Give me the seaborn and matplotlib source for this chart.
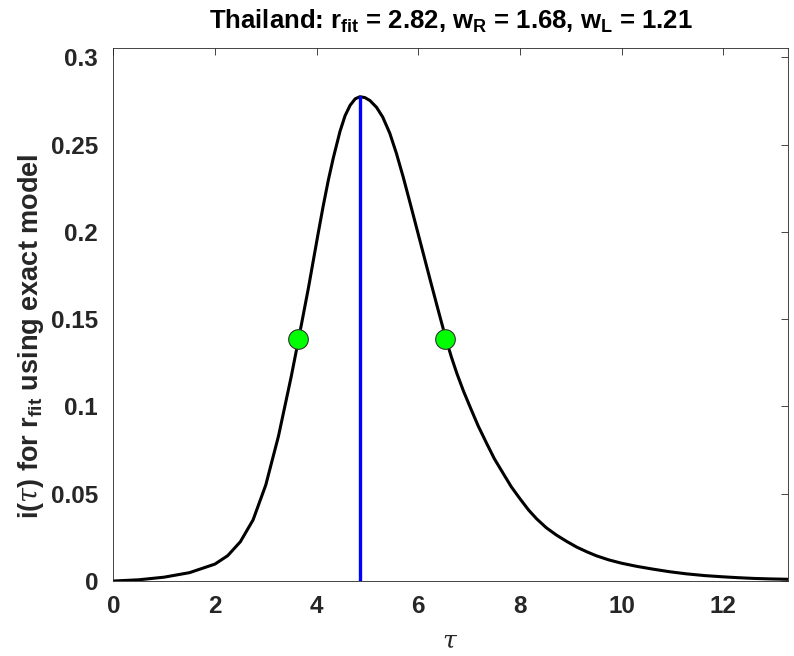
import matplotlib
matplotlib.use("Agg")
import matplotlib.pyplot as plt
import seaborn as sns
import pandas as pd

# Epidemic curve i(tau) for the fitted growth rate
tau = [0.0, 0.5, 1.0, 1.5, 2.0, 2.25, 2.5, 2.75, 3.0, 3.25, 3.5, 3.647,
       3.84, 4.03, 4.13, 4.23, 4.33, 4.46, 4.56, 4.66, 4.76, 4.853,
       4.95, 5.05, 5.18, 5.30, 5.44, 5.57, 5.705, 5.84, 5.97, 6.10, 6.23,
       6.38, 6.545, 6.65, 6.76, 6.89, 7.02, 7.18, 7.345, 7.5, 7.67, 7.83,
       8.0, 8.17, 8.33, 8.52, 8.72, 8.92, 9.12, 9.32, 9.51, 9.75, 10.0,
       10.3, 10.62, 10.95, 11.28, 11.64, 12.0, 12.3, 12.59, 12.93, 13.27]
i_tau = [0.0, 0.0007, 0.0022, 0.0048, 0.0097, 0.0145, 0.0225, 0.035, 0.055,
         0.083, 0.117, 0.1387, 0.168, 0.199, 0.2148, 0.2295, 0.2425, 0.2575,
         0.2665, 0.2725, 0.2762, 0.2774,
         0.2769, 0.2752, 0.2713, 0.2658, 0.2565, 0.2450, 0.2313, 0.2165,
         0.2020, 0.1875, 0.1730, 0.1565, 0.1387, 0.1285, 0.1189, 0.1088,
         0.0997, 0.0888, 0.0789, 0.0699, 0.0617, 0.0540, 0.0472, 0.0407,
         0.0356, 0.0305, 0.0263, 0.0227, 0.0194, 0.0167, 0.0144, 0.0121,
         0.0102, 0.0084, 0.0068, 0.0053, 0.0041, 0.0031, 0.0024, 0.0019,
         0.0015, 0.0012, 0.0010]

country = "Thailand"
r_fit = 2.82
w_R = 1.68
w_L = 1.21
tau_peak = 4.853
i_peak = 0.2774

sns.set_theme(style="white")
plt.rcParams["font.family"] = ["Liberation Sans", "DejaVu Sans"]
plt.rcParams["mathtext.fontset"] = "custom"
plt.rcParams["mathtext.rm"] = "Liberation Sans"
plt.rcParams["mathtext.bf"] = "Liberation Sans:bold"
plt.rcParams["mathtext.it"] = "DejaVu Serif:italic"

fig = plt.figure(figsize=(7.94, 6.56), dpi=100)
ax = fig.add_axes([0.1427, 0.1143, 0.8494, 0.8121])

curve = pd.DataFrame({"tau": tau, "i": i_tau})
sns.lineplot(data=curve, x="tau", y="i", ax=ax, color="black", linewidth=2.2,
             sort=False, estimator=None, zorder=2)

# Peak marker line
peak = pd.DataFrame({"tau": [tau_peak, tau_peak], "i": [0.0, i_peak]})
sns.lineplot(data=peak, x="tau", y="i", ax=ax, color="#0000ff", linewidth=2.4,
             sort=False, estimator=None, zorder=3)

# Half-maximum points
half = pd.DataFrame({"tau": [tau_peak - w_L, tau_peak + w_R],
                     "i": [i_peak / 2, i_peak / 2]})
sns.scatterplot(data=half, x="tau", y="i", ax=ax, color="#00ff00", s=200,
                edgecolor="#333333", linewidth=0.8, zorder=4)

ax.set_xlim(0, 13.27)
ax.set_ylim(0, i_peak * 1.1)
ax.set_xticks([0, 2, 4, 6, 8, 10, 12])
ax.set_yticks([0, 0.05, 0.1, 0.15, 0.2, 0.25, 0.3])
ax.set_yticklabels(["0", "0.05", "0.1", "0.15", "0.2", "0.25", "0.3"])

for side in ax.spines.values():
    side.set_color("#262626")
    side.set_linewidth(0.6)
ax.tick_params(direction="in", length=5, width=0.6, color="#262626",
               top=True, right=True, labelsize=17.5, labelcolor="#262626")
ax.tick_params(axis="y", pad=11)
ax.tick_params(axis="x", pad=10)
for lab in ax.get_xticklabels() + ax.get_yticklabels():
    lab.set_fontweight("bold")

ax.set_xlabel(r"$\mathit{\tau}$", fontsize=18, color="#262626", labelpad=8)
ax.set_ylabel(r"i($\mathit{\tau}$) for r$_{\mathbf{fit}}$ using exact model",
              fontsize=19.5, fontweight="bold", color="#262626")
ax.yaxis.set_label_coords(-0.100, 0.46)
ax.set_title(rf"{country}: r$_{{\mathbf{{fit}}}}$ = {r_fit:.2f}, "
             rf"w$_{{\mathbf{{R}}}}$ = {w_R:.2f}, w$_{{\mathbf{{L}}}}$ = {w_L:.2f}",
             fontsize=18.5, fontweight="bold", color="black", pad=14)

fig.savefig("out.png", dpi=100)
